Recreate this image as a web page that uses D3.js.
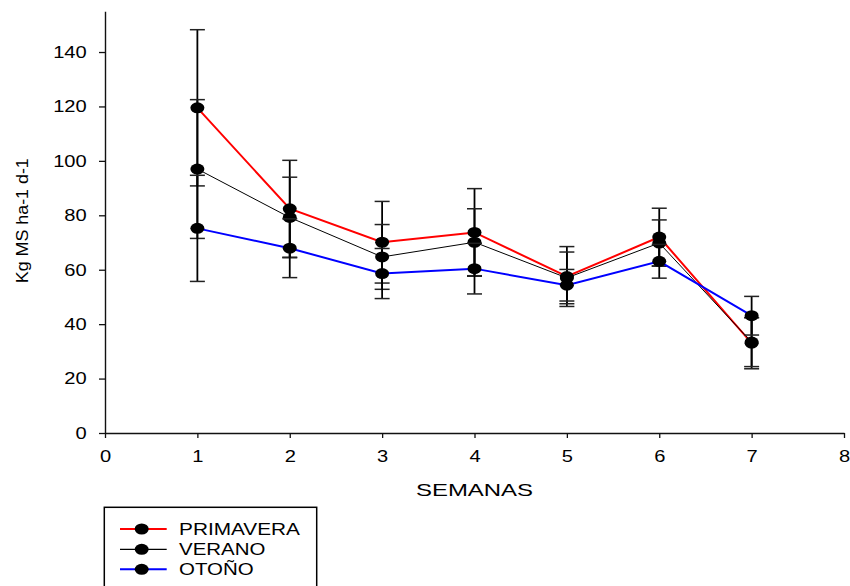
<!DOCTYPE html>
<html>
<head>
<meta charset="utf-8">
<script src="https://cdn.jsdelivr.net/npm/d3@7"></script>
<style>
  html, body { margin: 0; padding: 0; background: #fff; }
  svg { display: block; font-family: "Liberation Sans", Arial, sans-serif; }
</style>
</head>
<body>
<svg id="chart" width="850" height="586"></svg>
<script>
// ---- data ----
const weeks = [1, 2, 3, 4, 5, 6, 7];
const primavera    = [119.5, 82.4, 70.1, 73.7, 57.5, 72.0, 33.0];
const primaveraErr = [28.7, 17.8, 15.0, 16.1, 11.0, 10.6, 9.4];
const verano       = [97.0, 79.2, 64.7, 70.1, 57.0, 69.8, 33.4];
const veranoErr    = [25.5, 14.8, 11.9, 12.3, 9.5, 8.5, 9.0];
const otono        = [75.2, 67.9, 58.6, 60.4, 54.3, 63.1, 43.1];
const otonoErr     = [19.5, 10.8, 9.2, 9.3, 5.8, 6.2, 7.1];
const seriesNames  = ["PRIMAVERA", "VERANO", "OTOÑO"];
const xTicks = [0, 1, 2, 3, 4, 5, 6, 7, 8];
const yTicks = [0, 20, 40, 60, 80, 100, 120, 140];
const xTitle = "SEMANAS";
const yTitle = "Kg MS ha-1 d-1";

const series = [
  { name: seriesNames[0], values: primavera, err: primaveraErr, color: "#ff0000", width: 2 },
  { name: seriesNames[1], values: verano,    err: veranoErr,    color: "#000000", width: 1 },
  { name: seriesNames[2], values: otono,     err: otonoErr,     color: "#0000ff", width: 2 }
];

const svg = d3.select("#chart");
const x = d3.scaleLinear().domain([0, 8]).range([105, 844]);
const y = d3.scaleLinear().domain([0, 155]).range([433, 11.2]);
const SX = 1.22;
const FS = "16.5px";

// axes
const yAxis = svg.append("g").attr("transform", `translate(${x(0)},0)`)
  .call(d3.axisLeft(y).tickValues(yTicks).tickSize(6).tickSizeOuter(0));
yAxis.select(".domain").attr("stroke", "#111").attr("stroke-width", 1.4);
yAxis.selectAll(".tick line").attr("stroke", "#111").attr("stroke-width", 1.3);
yAxis.selectAll(".tick text")
  .attr("x", -18.3 / SX).attr("fill", "#000")
  .attr("font-size", null)
  .style("font-size", FS)
  .attr("transform", `scale(${SX},1)`);

const xAxis = svg.append("g").attr("transform", `translate(0,${y(0)})`)
  .call(d3.axisBottom(x).tickValues(xTicks).tickSize(5).tickSizeOuter(0));
xAxis.select(".domain").attr("stroke", "#111").attr("stroke-width", 1.4);
xAxis.selectAll(".tick line").attr("stroke", "#111").attr("stroke-width", 1.3);
xAxis.selectAll(".tick text")
  .attr("y", 17.5).attr("fill", "#000")
  .style("font-size", FS)
  .attr("transform", `scale(${SX},1)`);
svg.selectAll(".domain").attr("fill", "none");

// titles
svg.append("text")
  .attr("x", 474.5).attr("y", 496)
  .attr("text-anchor", "middle")
  .attr("textLength", 117).attr("lengthAdjust", "spacingAndGlyphs")
  .style("font-size", "16.5px")
  .text(xTitle);

svg.append("text")
  .attr("transform", "translate(28,220.7) rotate(-90)")
  .attr("text-anchor", "middle")
  .attr("textLength", 125).attr("lengthAdjust", "spacingAndGlyphs")
  .style("font-size", "16.5px")
  .text(yTitle);

// series
const line = d3.line().x((d, i) => x(weeks[i])).y(d => y(d));
const capW = 7.5;
series.forEach(s => {
  const g = svg.append("g");
  // error bars
  s.values.forEach((v, i) => {
    const cx = x(weeks[i]);
    const top = y(v + s.err[i]), bot = y(v - s.err[i]);
    g.append("line").attr("x1", cx).attr("x2", cx).attr("y1", top).attr("y2", bot)
      .attr("stroke", "#000").attr("stroke-width", 1.8);
    [top, bot].forEach(yy => {
      g.append("line").attr("x1", cx - capW).attr("x2", cx + capW).attr("y1", yy).attr("y2", yy)
        .attr("stroke", "#222").attr("stroke-width", 1.5);
    });
  });
  g.append("path").datum(s.values)
    .attr("d", line).attr("fill", "none")
    .attr("stroke", s.color).attr("stroke-width", s.width);
  g.selectAll("ellipse").data(s.values).enter().append("ellipse")
    .attr("cx", (d, i) => x(weeks[i])).attr("cy", d => y(d))
    .attr("rx", 7).attr("ry", 5.5).attr("fill", "#000");
});

// legend
const lg = svg.append("g");
lg.append("rect").attr("x", 104.3).attr("y", 507.3).attr("width", 212.4).attr("height", 100)
  .attr("fill", "none").attr("stroke", "#000").attr("stroke-width", 1.5);
const legendRowsY = [529, 549.3, 569.3];
const legendTextW = [121, 86.3, 74.7];
series.forEach((s, i) => {
  const ly = legendRowsY[i];
  lg.append("line").attr("x1", 120).attr("x2", 166.7).attr("y1", ly).attr("y2", ly)
    .attr("stroke", s.color).attr("stroke-width", s.width === 1 ? 1.2 : 2);
  lg.append("ellipse").attr("cx", 141.7).attr("cy", ly).attr("rx", 7).attr("ry", 5.5).attr("fill", "#000");
  lg.append("text").attr("x", 179).attr("y", ly + 6)
    .attr("textLength", legendTextW[i]).attr("lengthAdjust", "spacingAndGlyphs")
    .style("font-size", FS)
    .text(s.name);
});
</script>
</body>
</html>
